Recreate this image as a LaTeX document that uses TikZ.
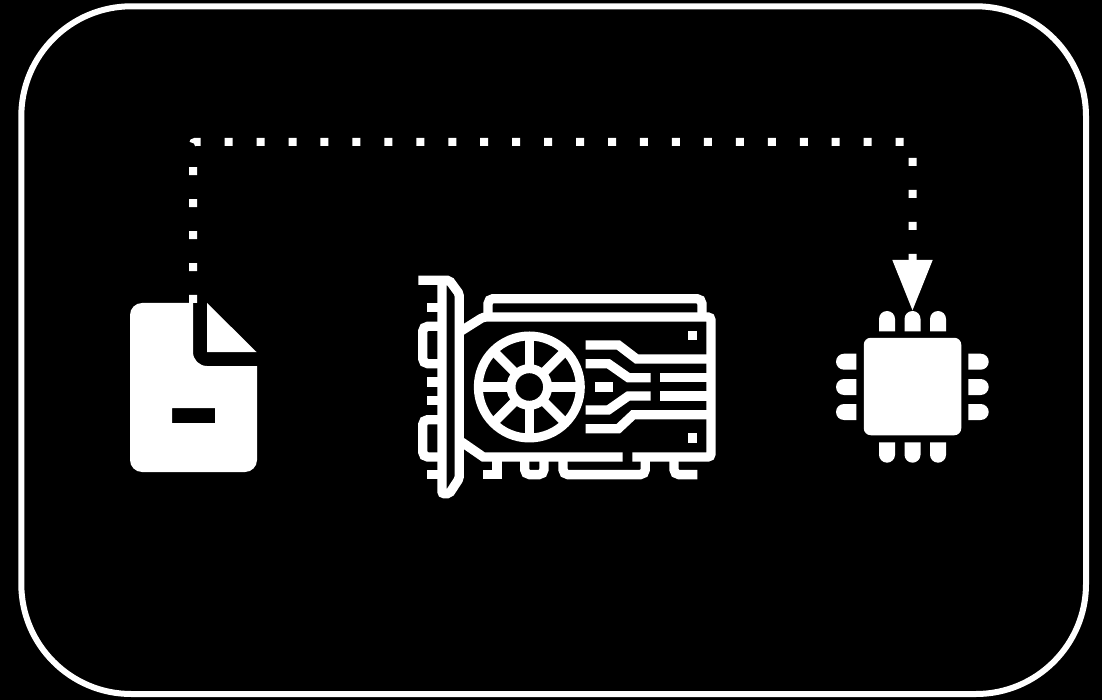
\documentclass[tikz,border=0pt]{standalone}
\usetikzlibrary{arrows.meta}

\begin{document}
\begin{tikzpicture}[
  x=1pt,y=-1pt,
  frame/.style={rounded corners=110pt,draw=white,line width=6pt},
  iconfill/.style={fill=white,draw=none},
  gpuline/.style={draw=white,line width=9.3pt,rounded corners=5pt},
  trace/.style={draw=white,line width=9.3pt},
  link/.style={draw=white,line width=8pt,dash pattern=on 8pt off 23.95pt,rounded corners=2pt,
    -{Triangle[length=51pt,width=38pt]}}
]
\fill[black] (0,0) rectangle (1102,700);
\useasboundingbox (0,0) rectangle (1102,700);
\draw[frame] (21.3,6.3) rectangle (1086,694);
% file
\fill[iconfill,even odd rule] (130,315) arc (180:270:12) -- (193,303) -- (193,352) arc (180:90:14) -- (257,366)
  -- (257,460) arc (0:90:12) -- (142,472) arc (90:180:12) -- cycle
  (172,408) rectangle (215,423);
\fill[iconfill] (207,303) -- (256.5,352) -- (207,352) -- cycle;
\coordinate (filetop) at (193,303);
% chip
\node[iconfill,rounded corners=7pt,minimum width=97.5pt,minimum height=97.5pt,inner sep=0pt] (cpu) at (912.5,386.5) {};
\foreach \pinx in {887,912.5,938} {
  \fill[iconfill] (\pinx-8,331.3) -- (\pinx-8,319) arc (180:360:8) -- (\pinx+8,331.3) -- cycle;
  \fill[iconfill] (\pinx-8,442.3) -- (\pinx-8,454.7) arc (180:0:8) -- (\pinx+8,442.3) -- cycle;
}
\foreach \piny in {361.7,387,412} {
  \fill[iconfill] (856.3,\piny-8) -- (844,\piny-8) arc (270:90:8) -- (856.3,\piny+8) -- cycle;
  \fill[iconfill] (968.3,\piny-8) -- (980.7,\piny-8) arc (-90:90:8) -- (968.3,\piny+8) -- cycle;
}
\coordinate (cpupin) at (912.5,311);
% card
\begin{scope}[shift={(400,260)},x=.3333pt,y=-.3333pt]
\draw[gpuline,rounded corners=2pt] (55,61) -- (148,61) -- (178,102) -- (178,655) -- (148,701) -- (126,701) -- (126,61);
\draw[trace] (82,143) -- (126,143) (82,366) -- (126,366) (82,421) -- (126,421) (82,644) -- (126,644);
\draw[gpuline] (126,199) -- (68,199) -- (68,311) -- (126,311);
\draw[gpuline] (126,479) -- (68,479) -- (68,591) -- (126,591);
\draw[gpuline,rounded corners=3pt] (185,212) -- (250,171) -- (933,171) -- (933,591) -- (697,591);
\draw[trace] (668,591) -- (250,591) -- (185,546);
\draw[gpuline] (264,171) -- (264,116) -- (906,116) -- (906,171);
\draw[trace,line width=9pt] (388,381) circle (153);
\draw[trace,line width=9pt] (388,381) circle (55);
\foreach \spoke in {0,45,...,315}
  \draw[trace] (388,381) ++(\spoke:55) -- ++(\spoke:98);
\draw[trace] (557,255) -- (655,255) -- (710,297) -- (925,297);
\draw[trace] (557,311) -- (625,311) -- (685,353) -- (752,353);
\draw[trace] (557,450) -- (625,450) -- (685,408) -- (752,408);
\draw[trace] (557,506) -- (655,506) -- (700,464) -- (925,464);
\draw[trace] (585,381) -- (640,381);
\draw[trace] (780,353) -- (925,353);
\draw[trace] (780,408) -- (925,408);
\fill[iconfill] (864,213) rectangle (892,241);
\fill[iconfill] (864,520) rectangle (892,548);
\draw[trace] (250,644) -- (291,644) -- (291,591);
\draw[gpuline] (374,591) -- (374,644) -- (432,644) -- (432,591);
\draw[gpuline] (489,591) -- (489,644) -- (736,644) -- (736,591);
\draw[gpuline] (822,591) -- (822,644) -- (892,644);
\end{scope}
% dotted connector
\coordinate (bend) at (912.5,142);
\draw[link] (filetop) |- (bend) -- (cpupin);
\end{tikzpicture}
\end{document}
